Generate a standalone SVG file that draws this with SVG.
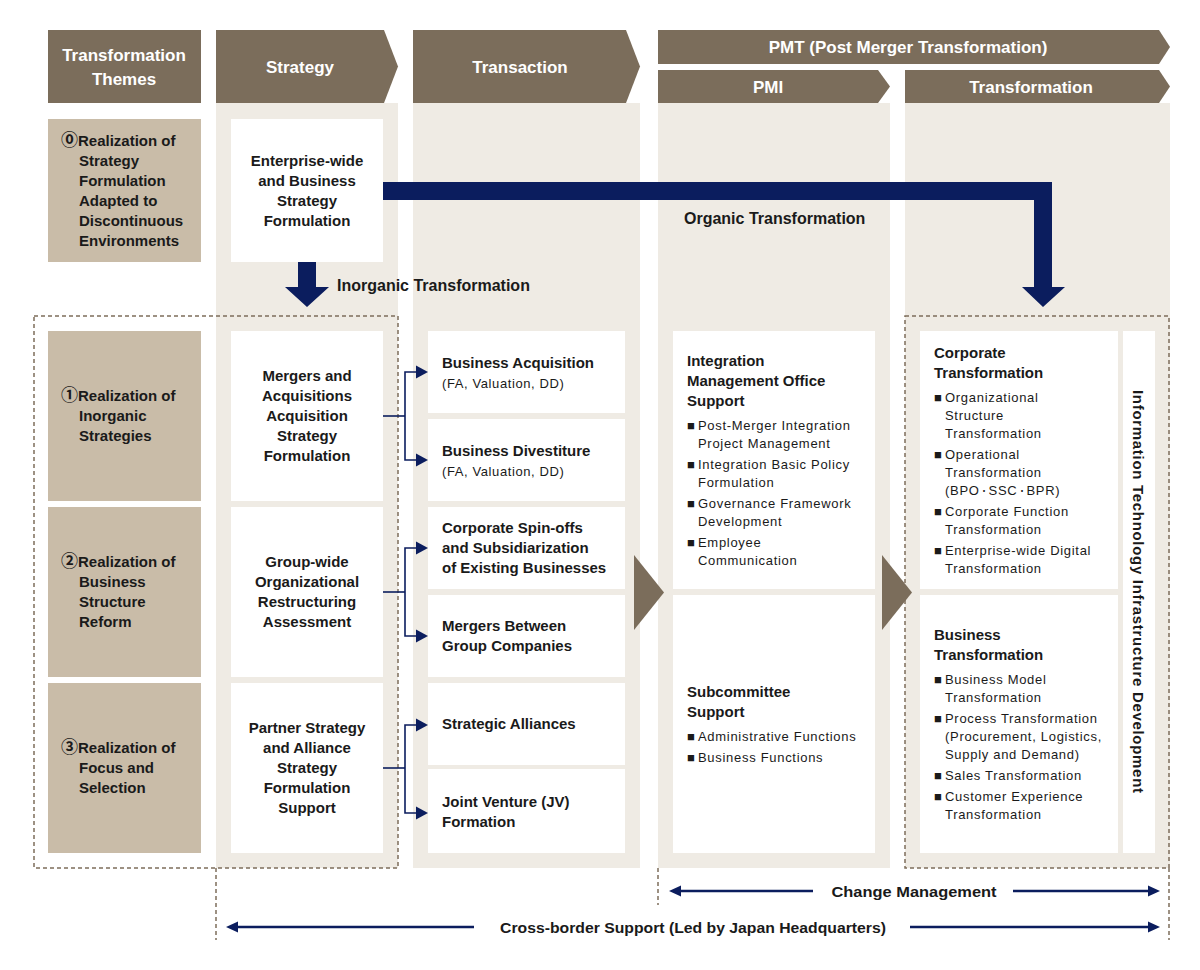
<svg xmlns="http://www.w3.org/2000/svg" width="1200" height="970" viewBox="0 0 1200 970">
<defs>
<style>
.hdr{fill:#7b6d5b}
.col{fill:#efebe4}
.theme{fill:#c9bca8}
.box{fill:#ffffff}
.ht{font-family:"Liberation Sans",Arial,sans-serif;font-weight:bold;font-size:17px;fill:#ffffff;text-anchor:middle}
.b{font-family:"Liberation Sans",Arial,"Noto Sans CJK JP",sans-serif;font-weight:bold;font-size:15px;fill:#1a1a1a}
.cj{font-family:"Noto Sans CJK JP",sans-serif;font-weight:bold;font-size:17px}
.bc{font-family:"Liberation Sans",Arial,sans-serif;font-weight:bold;font-size:15px;fill:#1a1a1a;text-anchor:middle}
.r{font-family:"Liberation Sans",Arial,"DejaVu Sans",sans-serif;font-size:13px;fill:#1a1a1a;letter-spacing:0.7px}
.dot{font-family:"Noto Sans CJK JP",sans-serif;font-size:9px;letter-spacing:0}
.lbl{font-family:"Liberation Sans",Arial,sans-serif;font-weight:bold;font-size:16px;fill:#1a1a1a}
.dash{fill:none;stroke:#7d6e5b;stroke-width:1.5;stroke-dasharray:4 3}
.thin{fill:none;stroke:#0b1d5e;stroke-width:1.6}
.navy{fill:#0b1d5e}
.bl{fill:none;stroke:#0b1d5e;stroke-width:2.5}
</style>
</defs>
<rect width="1200" height="970" fill="#ffffff"/>

<g id="columns">
<rect class="col" x="216" y="103" width="182" height="765"/>
<rect class="col" x="413" y="103" width="227" height="765"/>
<rect class="col" x="658" y="103" width="232" height="765"/>
<rect class="col" x="905" y="103" width="265" height="765"/>
</g>

<g id="headers">
<g id="hdr-themes"><rect class="hdr" x="48" y="30" width="153" height="73"/>
<text class="ht" x="124" y="61">Transformation</text><text class="ht" x="124" y="85">Themes</text></g>
<g id="hdr-strategy"><polygon class="hdr" points="216,30 384,30 398,66.5 384,103 216,103"/>
<text class="ht" x="300" y="73">Strategy</text></g>
<g id="hdr-transaction"><polygon class="hdr" points="413,30 626,30 640,66.5 626,103 413,103"/>
<text class="ht" x="520" y="73">Transaction</text></g>
<g id="hdr-pmt"><polygon class="hdr" points="658,30 1159,30 1170,47 1159,64 658,64"/>
<text class="ht" x="908" y="53">PMT (Post Merger Transformation)</text></g>
<g id="hdr-pmi"><polygon class="hdr" points="658,70 878,70 890,86.5 878,103 658,103"/>
<text class="ht" x="768" y="93">PMI</text></g>
<g id="hdr-transformation"><polygon class="hdr" points="905,70 1159,70 1170,86.5 1159,103 905,103"/>
<text class="ht" x="1031" y="93">Transformation</text></g>
</g>

<g id="themes">
<g id="theme0"><rect class="theme" x="48" y="119" width="153" height="143"/>
<text class="b" x="61" y="146"><tspan class="cj">⓪</tspan>Realization of</text>
<text class="b" x="79" y="166">Strategy</text>
<text class="b" x="79" y="186">Formulation</text>
<text class="b" x="79" y="206">Adapted to</text>
<text class="b" x="79" y="226">Discontinuous</text>
<text class="b" x="79" y="246">Environments</text></g>
<g id="theme1"><rect class="theme" x="48" y="331" width="153" height="170"/>
<text class="b" x="61" y="401"><tspan class="cj">①</tspan>Realization of</text>
<text class="b" x="79" y="421">Inorganic</text>
<text class="b" x="79" y="441">Strategies</text></g>
<g id="theme2"><rect class="theme" x="48" y="507" width="153" height="170"/>
<text class="b" x="61" y="567"><tspan class="cj">②</tspan>Realization of</text>
<text class="b" x="79" y="587">Business</text>
<text class="b" x="79" y="607">Structure</text>
<text class="b" x="79" y="627">Reform</text></g>
<g id="theme3"><rect class="theme" x="48" y="683" width="153" height="170"/>
<text class="b" x="61" y="753"><tspan class="cj">③</tspan>Realization of</text>
<text class="b" x="79" y="773">Focus and</text>
<text class="b" x="79" y="793">Selection</text></g>
</g>

<g id="strategy">
<g id="s0"><rect class="box" x="231" y="119" width="152" height="143"/>
<text class="bc" x="307" y="166">Enterprise-wide</text>
<text class="bc" x="307" y="186">and Business</text>
<text class="bc" x="307" y="206">Strategy</text>
<text class="bc" x="307" y="226">Formulation</text></g>
<g id="s1"><rect class="box" x="231" y="331" width="152" height="170"/>
<text class="bc" x="307" y="381">Mergers and</text>
<text class="bc" x="307" y="401">Acquisitions</text>
<text class="bc" x="307" y="421">Acquisition</text>
<text class="bc" x="307" y="441">Strategy</text>
<text class="bc" x="307" y="461">Formulation</text></g>
<g id="s2"><rect class="box" x="231" y="507" width="152" height="170"/>
<text class="bc" x="307" y="567">Group-wide</text>
<text class="bc" x="307" y="587">Organizational</text>
<text class="bc" x="307" y="607">Restructuring</text>
<text class="bc" x="307" y="627">Assessment</text></g>
<g id="s3"><rect class="box" x="231" y="683" width="152" height="170"/>
<text class="bc" x="307" y="733">Partner Strategy</text>
<text class="bc" x="307" y="753">and Alliance</text>
<text class="bc" x="307" y="773">Strategy</text>
<text class="bc" x="307" y="793">Formulation</text>
<text class="bc" x="307" y="813">Support</text></g>
</g>

<g id="transaction">
<g id="t1"><rect class="box" x="428" y="331" width="197" height="82"/>
<text class="b" x="442" y="368">Business Acquisition</text>
<text class="r" x="442" y="388" style="letter-spacing:0.6px">(FA, Valuation, DD)</text></g>
<g id="t2"><rect class="box" x="428" y="419" width="197" height="82"/>
<text class="b" x="442" y="456">Business Divestiture</text>
<text class="r" x="442" y="476" style="letter-spacing:0.6px">(FA, Valuation, DD)</text></g>
<g id="t3"><rect class="box" x="428" y="507" width="197" height="82"/>
<text class="b" x="442" y="533">Corporate Spin-offs</text>
<text class="b" x="442" y="553">and Subsidiarization</text>
<text class="b" x="442" y="573">of Existing Businesses</text></g>
<g id="t4"><rect class="box" x="428" y="595" width="197" height="82"/>
<text class="b" x="442" y="631">Mergers Between</text>
<text class="b" x="442" y="651">Group Companies</text></g>
<g id="t5"><rect class="box" x="428" y="683" width="197" height="82"/>
<text class="b" x="442" y="729">Strategic Alliances</text></g>
<g id="t6"><rect class="box" x="428" y="769" width="197" height="84"/>
<text class="b" x="442" y="807">Joint Venture (JV)</text>
<text class="b" x="442" y="827">Formation</text></g>
</g>

<g id="pmi">
<g id="p1"><rect class="box" x="673" y="331" width="202" height="258"/>
<text class="b" x="687" y="366">Integration</text>
<text class="b" x="687" y="386">Management Office</text>
<text class="b" x="687" y="406">Support</text>
<text class="r" x="687" y="430">■<tspan x="698">Post-Merger Integration</tspan></text>
<text class="r" x="698" y="448">Project Management</text>
<text class="r" x="687" y="469">■<tspan x="698">Integration Basic Policy</tspan></text>
<text class="r" x="698" y="487">Formulation</text>
<text class="r" x="687" y="508">■<tspan x="698">Governance Framework</tspan></text>
<text class="r" x="698" y="526">Development</text>
<text class="r" x="687" y="547">■<tspan x="698">Employee</tspan></text>
<text class="r" x="698" y="565">Communication</text></g>
<g id="p2"><rect class="box" x="673" y="595" width="202" height="258"/>
<text class="b" x="687" y="697">Subcommittee</text>
<text class="b" x="687" y="717">Support</text>
<text class="r" x="687" y="741">■<tspan x="698">Administrative Functions</tspan></text>
<text class="r" x="687" y="762">■<tspan x="698">Business Functions</tspan></text></g>
</g>

<g id="transformation">
<g id="x1"><rect class="box" x="920" y="331" width="198" height="258"/>
<text class="b" x="934" y="358">Corporate</text>
<text class="b" x="934" y="378">Transformation</text>
<text class="r" x="934" y="402">■<tspan x="945">Organizational</tspan></text>
<text class="r" x="945" y="420">Structure</text>
<text class="r" x="945" y="438">Transformation</text>
<text class="r" x="934" y="459">■<tspan x="945">Operational</tspan></text>
<text class="r" x="945" y="477">Transformation</text>
<text class="r" x="945" y="495">(BPO<tspan class="dot" dy="-1.5">・</tspan><tspan dy="1.5">SSC</tspan><tspan class="dot" dy="-1.5">・</tspan><tspan dy="1.5">BPR)</tspan></text>
<text class="r" x="934" y="516">■<tspan x="945">Corporate Function</tspan></text>
<text class="r" x="945" y="534">Transformation</text>
<text class="r" x="934" y="555">■<tspan x="945">Enterprise-wide Digital</tspan></text>
<text class="r" x="945" y="573">Transformation</text></g>
<g id="x2"><rect class="box" x="920" y="595" width="198" height="258"/>
<text class="b" x="934" y="640">Business</text>
<text class="b" x="934" y="660">Transformation</text>
<text class="r" x="934" y="684">■<tspan x="945">Business Model</tspan></text>
<text class="r" x="945" y="702">Transformation</text>
<text class="r" x="934" y="723">■<tspan x="945">Process Transformation</tspan></text>
<text class="r" x="945" y="741">(Procurement, Logistics,</text>
<text class="r" x="945" y="759">Supply and Demand)</text>
<text class="r" x="934" y="780">■<tspan x="945">Sales Transformation</tspan></text>
<text class="r" x="934" y="801">■<tspan x="945">Customer Experience</tspan></text>
<text class="r" x="945" y="819">Transformation</text></g>
<g id="it"><rect class="box" x="1123" y="331" width="32" height="522"/>
<text class="bc" transform="translate(1133,591.5) rotate(90)" x="0" y="0" textLength="403" lengthAdjust="spacing">Information Technology Infrastructure Development</text></g>
</g>

<g id="frames">
<rect class="dash" x="34" y="316" width="364" height="552"/>
<rect class="dash" x="905" y="316" width="264" height="552"/>
<line class="dash" x1="216" y1="868" x2="216" y2="940"/>
<line class="dash" x1="658" y1="868" x2="658" y2="905"/>
<line class="dash" x1="1169" y1="868" x2="1169" y2="940"/>
</g>

<g id="connectors">
<polygon class="navy" points="383,182 1052,182 1052,287 1065,287 1043,307 1022,287 1034,287 1034,200 383,200"/>
<polygon class="navy" points="298,262 316,262 316,287 329,287 307,307 285,287 298,287"/>
<text class="lbl" x="684" y="224">Organic Transformation</text>
<text class="lbl" x="337" y="291">Inorganic Transformation</text>

<polyline class="thin" points="383,416 405,416"/>
<polyline class="thin" points="417,372 405,372 405,460 417,460"/>
<polygon class="navy" points="416,365.5 428,372 416,378.5"/>
<polygon class="navy" points="416,453.5 428,460 416,466.5"/>

<polyline class="thin" points="383,592 405,592"/>
<polyline class="thin" points="417,548 405,548 405,636 417,636"/>
<polygon class="navy" points="416,541.5 428,548 416,554.5"/>
<polygon class="navy" points="416,629.5 428,636 416,642.5"/>

<polyline class="thin" points="383,768 405,768"/>
<polyline class="thin" points="417,725 405,725 405,813 417,813"/>
<polygon class="navy" points="416,718.5 428,725 416,731.5"/>
<polygon class="navy" points="416,806.5 428,813 416,819.5"/>

<polygon fill="#7b6d5b" points="634,555 664,592.5 634,630"/>
<polygon fill="#7b6d5b" points="882,555 912,592.5 882,630"/>

<line class="bl" x1="680" y1="891" x2="813" y2="891"/>
<polygon class="navy" points="669,891 681,885.5 681,896.5"/>
<line class="bl" x1="1013" y1="891" x2="1149" y2="891"/>
<polygon class="navy" points="1160,891 1148,885.5 1148,896.5"/>
<text class="bc" x="914" y="897" textLength="165" lengthAdjust="spacingAndGlyphs">Change Management</text>

<line class="bl" x1="237" y1="927" x2="474" y2="927"/>
<polygon class="navy" points="226,927 238,921.5 238,932.5"/>
<line class="bl" x1="910" y1="927" x2="1149" y2="927"/>
<polygon class="navy" points="1160,927 1148,921.5 1148,932.5"/>
<text class="bc" x="693" y="933" textLength="386" lengthAdjust="spacingAndGlyphs">Cross-border Support (Led by Japan Headquarters)</text>
</g>
</svg>
